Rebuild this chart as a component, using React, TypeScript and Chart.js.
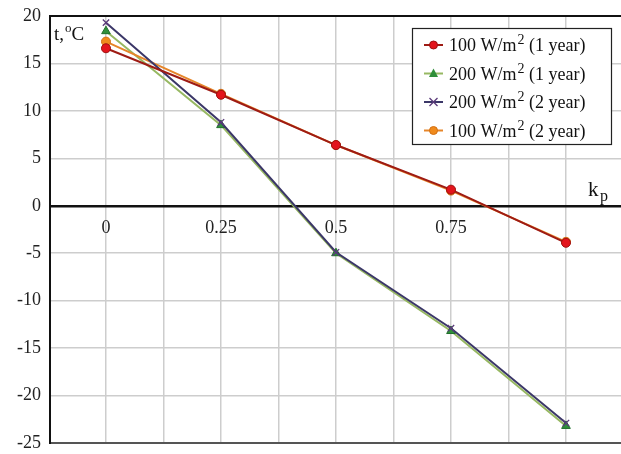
import React, { useEffect, useRef } from "react";
import { Chart, registerables } from "chart.js";

Chart.register(...registerables);

const X_VALUES = [0, 0.25, 0.5, 0.75, 1.0];
const RED_1Y = [16.6, 11.7, 6.4, 1.7, -3.9];
const GREEN_1Y = [18.4, 8.5, -5.0, -13.2, -23.2];
const PURPLE_2Y = [19.3, 8.8, -4.9, -12.9, -22.9];
const ORANGE_2Y = [17.3, 11.8, 6.4, 1.6, -3.8];

const Y_TICKS = [-25, -20, -15, -10, -5, 0, 5, 10, 15, 20];
const X_GRID = [0, 0.125, 0.25, 0.375, 0.5, 0.625, 0.75, 0.875, 1.0];
const X_LABEL_VALUES = [0, 0.25, 0.5, 0.75];
const X_LABEL_TEXT = ["0", "0.25", "0.5", "0.75"];

const LEGEND_PREFIX = ["100 W/m", "200 W/m", "200 W/m", "100 W/m"];
const LEGEND_SUFFIX = [" (1 year)", " (1 year)", " (2 year)", " (2 year)"];

const SERIF = "'Liberation Serif', 'DejaVu Serif', serif";

type Style = { line: string; fill: string; stroke: string; shape: string };
const STYLES: Style[] = [
  { line: "#9e1b14", fill: "#e3141c", stroke: "#9e1010", shape: "circle" },
  { line: "#97b862", fill: "#2f8f3a", stroke: "#1f6e2a", shape: "triangle" },
  { line: "#3b3768", fill: "#7a4f9a", stroke: "#5a3a7a", shape: "crossRot" },
  { line: "#e6862a", fill: "#f08a1c", stroke: "#d27014", shape: "circle" },
];

function drawMarker(ctx: CanvasRenderingContext2D, s: Style, x: number, y: number) {
  ctx.save();
  ctx.fillStyle = s.fill;
  ctx.strokeStyle = s.stroke;
  ctx.lineWidth = 1;
  if (s.shape === "circle") {
    ctx.beginPath();
    ctx.arc(x, y, 4, 0, Math.PI * 2);
    ctx.fill();
    ctx.stroke();
  } else if (s.shape === "triangle") {
    ctx.beginPath();
    ctx.moveTo(x, y - 5);
    ctx.lineTo(x + 4.5, y + 3.5);
    ctx.lineTo(x - 4.5, y + 3.5);
    ctx.closePath();
    ctx.fill();
  } else {
    ctx.lineWidth = 1.3;
    ctx.beginPath();
    ctx.moveTo(x - 4, y - 4);
    ctx.lineTo(x + 4, y + 4);
    ctx.moveTo(x + 4, y - 4);
    ctx.lineTo(x - 4, y + 4);
    ctx.stroke();
  }
  ctx.restore();
}

const overlayPlugin = {
  id: "overlay",
  afterDraw(chart: any) {
    const ctx: CanvasRenderingContext2D = chart.ctx;
    const area = chart.chartArea;
    const yScale = chart.scales.y;
    ctx.save();
    ctx.fillStyle = "#111";
    ctx.textBaseline = "alphabetic";
    ctx.textAlign = "left";
    // y axis title t,°C
    let x = area.left + 4;
    const by = area.top + 24;
    ctx.font = `19px ${SERIF}`;
    ctx.fillText("t,", x, by);
    x += ctx.measureText("t,").width + 1;
    ctx.font = `13px ${SERIF}`;
    ctx.fillText("o", x, by - 8);
    x += ctx.measureText("o").width;
    ctx.font = `19px ${SERIF}`;
    ctx.fillText("C", x, by);

    // x axis title k_p
    const zeroY = yScale.getPixelForValue(0);
    ctx.font = `21px ${SERIF}`;
    ctx.fillText("k", 588, zeroY - 10);
    ctx.font = `16px ${SERIF}`;
    ctx.fillText("p", 600, zeroY - 5);

    // legend
    const lx = 412, ly = 28, lw = 199, lh = 116;
    ctx.fillStyle = "#fff";
    ctx.fillRect(lx, ly, lw, lh);
    ctx.strokeStyle = "#222";
    ctx.lineWidth = 1.2;
    ctx.strokeRect(lx + 0.5, ly + 0.5, lw, lh);
    for (let i = 0; i < 4; i++) {
      const cy = ly + 17 + i * 28.5;
      const s = STYLES[i];
      ctx.strokeStyle = s.line;
      ctx.lineWidth = 2;
      ctx.beginPath();
      ctx.moveTo(424, cy);
      ctx.lineTo(443, cy);
      ctx.stroke();
      drawMarker(ctx, s, 433.5, cy);
      ctx.fillStyle = "#111";
      let tx = 449;
      const tb = cy + 6;
      ctx.font = `18px ${SERIF}`;
      ctx.fillText(LEGEND_PREFIX[i], tx, tb);
      tx += ctx.measureText(LEGEND_PREFIX[i]).width + 1;
      ctx.font = `14px ${SERIF}`;
      ctx.fillText("2", tx, tb - 7);
      tx += ctx.measureText("2").width;
      ctx.font = `18px ${SERIF}`;
      ctx.fillText(LEGEND_SUFFIX[i], tx, tb);
    }
    ctx.restore();
  },
};

export default function App() {
  const ref = useRef<HTMLCanvasElement | null>(null);
  useEffect(() => {
    if (!ref.current) return;
    const series = [RED_1Y, GREEN_1Y, PURPLE_2Y, ORANGE_2Y];
    const orders = [0, 3, 1, 2];
    const datasets = series.map((vals, i) => {
      const s = STYLES[i];
      return {
        label: LEGEND_PREFIX[i] + "2" + LEGEND_SUFFIX[i],
        data: X_VALUES.map((xv, j) => ({ x: xv, y: vals[j] })),
        borderColor: s.line,
        borderWidth: 2,
        backgroundColor: s.fill,
        pointBackgroundColor: s.fill,
        pointBorderColor: s.stroke,
        pointBorderWidth: s.shape === "crossRot" ? 1.3 : 1,
        pointStyle: s.shape,
        pointRadius: s.shape === "triangle" ? 5 : 4.5,
        tension: 0,
        order: orders[i],
      };
    });
    const chart = new Chart(ref.current, {
      type: "line",
      data: { datasets } as any,
      options: {
        responsive: false,
        animation: false,
        layout: { autoPadding: false, padding: { left: 0, right: 0, top: 16, bottom: 11 } },
        plugins: { legend: { display: false }, tooltip: { enabled: false } },
        scales: {
          x: {
            type: "linear",
            position: { y: 0 } as any,
            min: -0.1217,
            max: 1.1196,
            afterBuildTicks: (scale: any) => {
              scale.ticks = X_GRID.map((v) => ({ value: v }));
            },
            afterFit: (scale: any) => {
              scale.paddingLeft = 0;
              scale.paddingRight = 0;
              scale.paddingTop = 0;
              scale.paddingBottom = 0;
            },
            grid: { color: "#cdcdcd", lineWidth: 1.5, drawTicks: false },
            border: { display: true, color: "#111", width: 2.5 },
            ticks: {
              padding: 12,
              color: "#222",
              font: { family: SERIF, size: 18 },
              maxRotation: 0,
              autoSkip: false,
              callback: (v: any) => {
                const k = X_LABEL_VALUES.findIndex((t) => Math.abs(t - Number(v)) < 1e-6);
                return k >= 0 ? X_LABEL_TEXT[k] : "";
              },
            },
          },
          y: {
            type: "linear",
            min: -25,
            max: 20,
            afterBuildTicks: (scale: any) => {
              scale.ticks = Y_TICKS.map((v) => ({ value: v }));
            },
            afterFit: (scale: any) => {
              scale.width = 50;
              scale.paddingTop = 0;
              scale.paddingBottom = 0;
              scale.paddingLeft = 0;
              scale.paddingRight = 0;
            },
            grid: {
              drawTicks: false,
              color: (c: any) => (c.tick && c.tick.value === 20 ? "#111" : c.tick && c.tick.value === -25 ? "#555" : "#cdcdcd"),
              lineWidth: (c: any) => (c.tick && (c.tick.value === 20 || c.tick.value === -25) ? 2 : 1.5),
            },
            border: { display: true, color: "#111", width: 2 },
            ticks: {
              padding: 9,
              color: "#222",
              font: { family: SERIF, size: 18 },
              callback: (v: any) => String(v),
            },
          },
        },
      } as any,
      plugins: [overlayPlugin],
    });
    return () => chart.destroy();
  }, []);
  return (
    <div style={{ position: "fixed", left: 0, top: 0, width: 621, height: 454, background: "#fff" }}>
      <canvas ref={ref} width={621} height={454} style={{ width: 621, height: 454 }} />
    </div>
  );
}
